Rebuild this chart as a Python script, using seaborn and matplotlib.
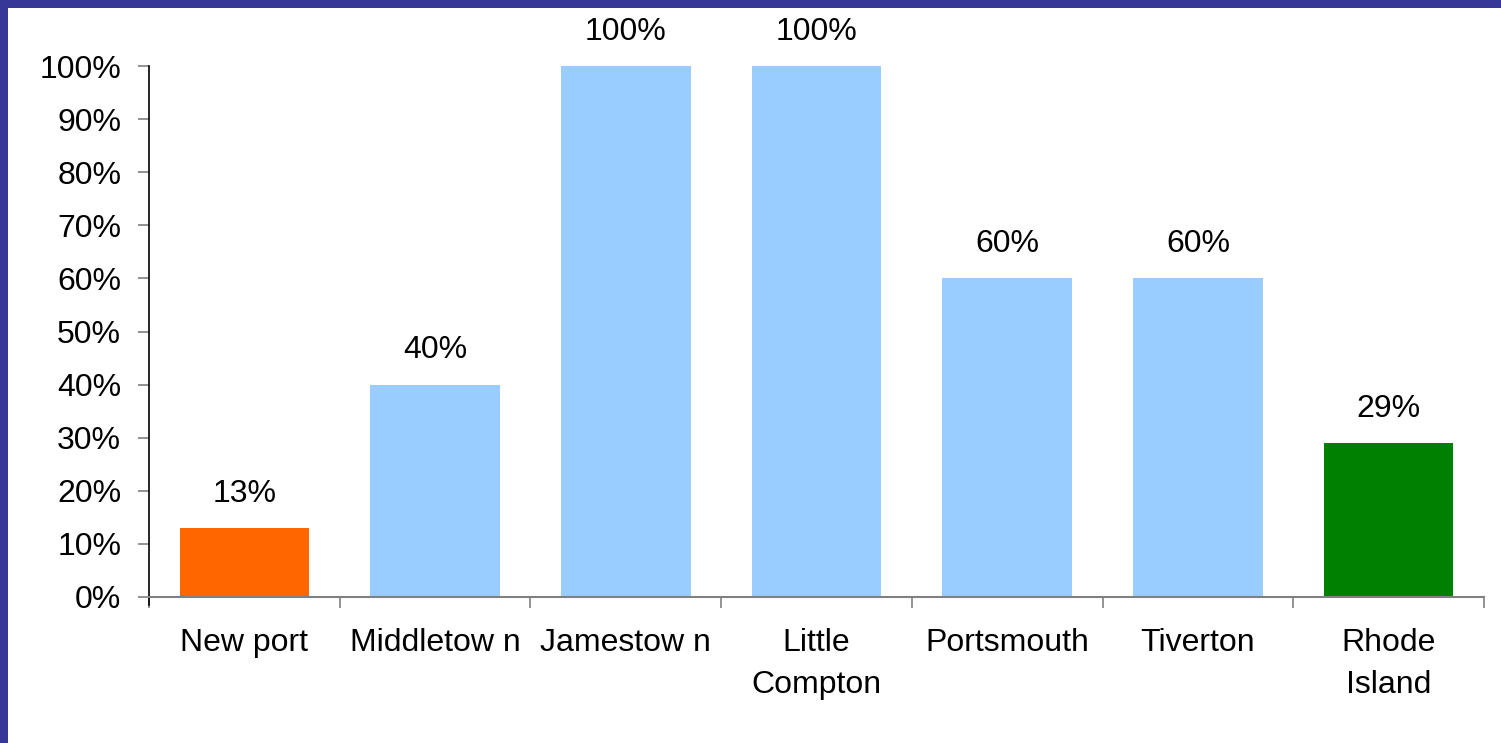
import numpy as np
import pandas as pd
import matplotlib
matplotlib.use("Agg")
import matplotlib.pyplot as plt
from matplotlib.patches import Rectangle
from matplotlib.ticker import PercentFormatter, FixedLocator
import seaborn as sns

# --- DATA ---
towns = ["New port", "Middletow n", "Jamestow n", "Little\nCompton", "Portsmouth", "Tiverton", "Rhode\nIsland"]
shares = [0.13, 0.40, 1.00, 1.00, 0.60, 0.60, 0.29]
bar_colors = ["#FF6600", "#99CCFF", "#99CCFF", "#99CCFF", "#99CCFF", "#99CCFF", "#008000"]

sns.set_style("white")
plt.rcParams["font.family"] = ["Liberation Sans", "DejaVu Sans"]
plt.rcParams["text.color"] = "black"
plt.rcParams["xtick.color"] = "#808080"
plt.rcParams["ytick.color"] = "#808080"
plt.rcParams["xtick.labelcolor"] = "black"
plt.rcParams["ytick.labelcolor"] = "black"
FS = 23

df = pd.DataFrame({"town": towns, "share": shares})

fig = plt.figure(figsize=(15.01, 7.43), dpi=100)
fig.patch.set_facecolor("#373797")
# white page inside the blue frame
fig.add_artist(Rectangle((8 / 1501, 0), 1, 1 - 8 / 743, transform=fig.transFigure,
                         facecolor="white", edgecolor="none", zorder=0))

ax = fig.add_axes([149 / 1501, 1 - 597 / 743, (1484 - 149) / 1501, (597 - 66) / 743])
ax.set_facecolor("none")

sns.barplot(data=df, x="town", y="share", hue="town", palette=bar_colors,
            legend=False, width=0.68, saturation=1, linewidth=0, ax=ax)

for cont in ax.containers:
    ax.bar_label(cont, labels=[f"{v * 100:.0f}%" for v in cont.datavalues],
                 padding=14, fontsize=FS, color="black")

ax.set_ylim(0, 1.0)
ax.set_xlim(-0.5, len(towns) - 0.5)
ax.yaxis.set_major_locator(FixedLocator(np.arange(0, 1.01, 0.1)))
ax.yaxis.set_major_formatter(PercentFormatter(1.0, decimals=0))

# category separators as minor ticks on x
ax.xaxis.set_minor_locator(FixedLocator(np.arange(-0.5, len(towns), 1)))
ax.tick_params(axis="x", which="major", length=0, pad=22, labelsize=FS, bottom=True)
ax.tick_params(axis="x", which="minor", length=8, width=1.2, color="#808080",
               direction="out", bottom=True)
ax.tick_params(axis="y", length=8, width=1.2, color="#808080", direction="out",
               pad=12, labelsize=FS, left=True)
for lbl in ax.get_xticklabels():
    lbl.set_linespacing(1.55)
    lbl.set_verticalalignment("top")

ax.set_xlabel("")
ax.set_ylabel("")
sns.despine(ax=ax, top=True, right=True)
ax.spines["left"].set_color("black")
ax.spines["left"].set_linewidth(1.2)
ax.spines["left"].set_bounds(-0.015, 1.0)
ax.spines["bottom"].set_color("#808080")
ax.spines["bottom"].set_linewidth(1.5)

fig.savefig("out.png", dpi=100, facecolor=fig.get_facecolor())
